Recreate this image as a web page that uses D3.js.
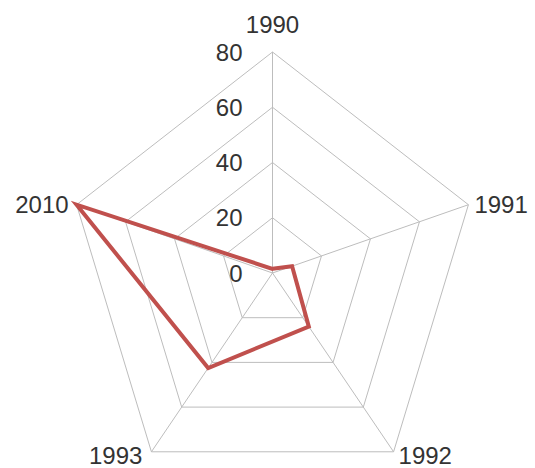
<!DOCTYPE html>
<html lang="en">
<head>
<script src="https://d3js.org/d3.v7.min.js"></script>
<style>
  body { margin: 0; background: #fff; }
  .grid { fill: none; stroke: #bdbdbd; stroke-width: 1px; }
  .spoke { stroke: #bdbdbd; stroke-width: 1px; }
  .series { fill: none; stroke: #c0504d; stroke-width: 4px; stroke-linejoin: miter; }
  text { font-family: "Liberation Sans", Arial, sans-serif; font-size: 24px; fill: #333; }
</style>
</head>
<body>
<svg id="radar" width="535" height="468"></svg>
<script>
const categories = ["1990", "1991", "1992", "1993", "2010"];
const values = [1.5, 8, 24, 42.5, 80];
const ticks = [0, 20, 40, 60, 80];

const svg = d3.select("#radar");
const cx = 272.5, cy = 273;
const rx = 206, ry = 221;   // picture is a bit taller than wide

const r = d3.scaleLinear().domain([0, 80]).range([0, 1]);
const angle = d3.scaleLinear().domain([0, categories.length]).range([0, 2 * Math.PI]);

function pt(i, v) {
  const a = angle(i);
  return [cx + Math.sin(a) * r(v) * rx, cy - Math.cos(a) * r(v) * ry];
}

const line = d3.line().curve(d3.curveLinearClosed);

// rings
svg.append("g").selectAll("path")
  .data(ticks.filter(t => t > 0))
  .join("path")
  .attr("class", "grid")
  .attr("d", t => line(categories.map((c, i) => pt(i, t))));

// spokes
svg.append("g").selectAll("line")
  .data(categories)
  .join("line")
  .attr("class", "spoke")
  .attr("x1", cx).attr("y1", cy)
  .attr("x2", (c, i) => pt(i, 80)[0])
  .attr("y2", (c, i) => pt(i, 80)[1]);

// series
svg.append("path")
  .attr("class", "series")
  .attr("d", line(values.map((v, i) => pt(i, v))));

// tick labels
svg.append("g").selectAll("text")
  .data(ticks)
  .join("text")
  .attr("x", cx - 30)
  .attr("y", t => pt(0, t)[1])
  .attr("dy", "0.36em")
  .attr("text-anchor", "end")
  .text(t => t);

// category labels
const labelPos = [
  { dx: 0, dy: -28, anchor: "middle" },
  { dx: 6, dy: 0, anchor: "start" },
  { dx: 5, dy: 4, anchor: "start" },
  { dx: -9, dy: 4, anchor: "end" },
  { dx: -8, dy: 0, anchor: "end" }
];
svg.append("g").selectAll("text")
  .data(categories)
  .join("text")
  .attr("x", (c, i) => pt(i, 80)[0] + labelPos[i].dx)
  .attr("y", (c, i) => pt(i, 80)[1] + labelPos[i].dy)
  .attr("dy", "0.36em")
  .attr("text-anchor", (c, i) => labelPos[i].anchor)
  .text(c => c);
</script>
</body>
</html>
